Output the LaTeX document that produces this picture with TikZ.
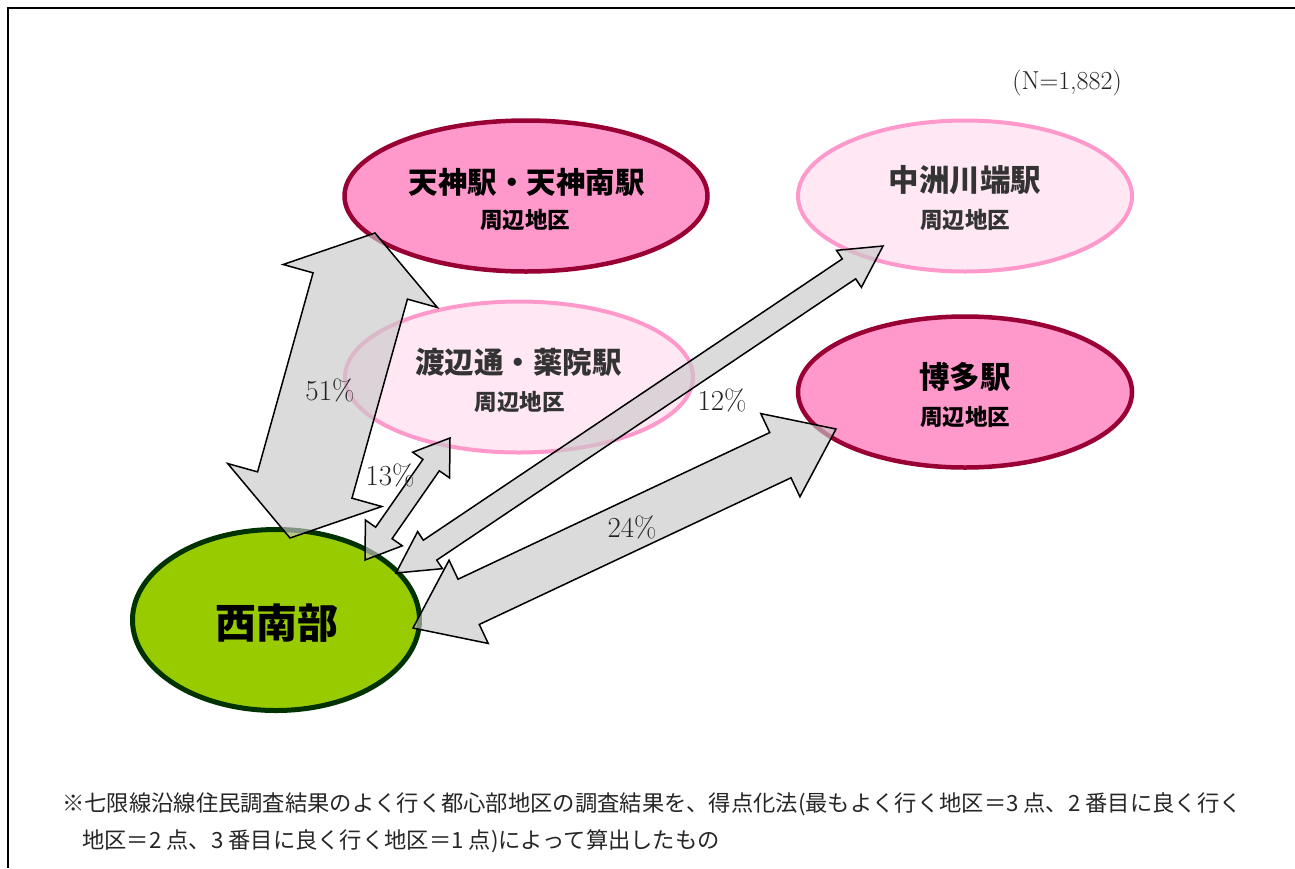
\documentclass[tikz,border=0pt]{standalone}
\usepackage{fontspec}
\newfontfamily\jp{Noto Sans CJK JP}
\usetikzlibrary{shapes.geometric,calc}
\definecolor{darkpink}{HTML}{FF99CC}
\definecolor{wine}{HTML}{990033}
\definecolor{lightpink}{HTML}{FFE8F4}
\definecolor{leaf}{HTML}{99CC00}
\definecolor{forest}{HTML}{003300}
\definecolor{arrowgray}{HTML}{C8C8C8}
\definecolor{inkgray}{HTML}{333333}
\definecolor{pctgray}{HTML}{222222}
\tikzset{
  majorarea/.style={ellipse, draw=wine, fill=darkpink, line width=4.5pt, inner sep=0pt},
  minorarea/.style={ellipse, draw=darkpink, fill=lightpink, line width=4pt, inner sep=0pt},
  homearea/.style={ellipse, draw=forest, fill=leaf, line width=5pt, inner sep=0pt},
  flowarrow/.style={draw=black, line width=1.5pt, fill=arrowgray, fill opacity=0.65, line join=miter},
  arealabel/.style={anchor=base, inner sep=0pt, font=\jp\bfseries\fontsize{#1}{#1}\selectfont},
  pctlabel/.style={anchor=base, inner sep=0pt, text=pctgray, font=\fontsize{29}{29}\selectfont},
  notelabel/.style={anchor=base west, inner sep=0pt, text=black!85, font=\jp\fontsize{22.3}{22.3}\selectfont}
}
% #1 start, #2 end, #3 shaft half width, #4 head half width, #5 head length
\newcommand\dblflow[5]{%
  \path[flowarrow]
    (#1)
    -- ($($(#1)!#5!(#2)$)!#4!90:(#2)$)
    -- ($($(#1)!#5!(#2)$)!#3!90:(#2)$)
    -- ($($(#2)!#5!(#1)$)!#3!-90:(#1)$)
    -- ($($(#2)!#5!(#1)$)!#4!-90:(#1)$)
    -- (#2)
    -- ($($(#2)!#5!(#1)$)!#4!90:(#1)$)
    -- ($($(#2)!#5!(#1)$)!#3!90:(#1)$)
    -- ($($(#1)!#5!(#2)$)!#3!-90:(#2)$)
    -- ($($(#1)!#5!(#2)$)!#4!-90:(#2)$)
    -- cycle;
}
\begin{document}
\begin{tikzpicture}[x=1pt,y=-1pt]
\useasboundingbox (0,0) rectangle (1295,868);
\fill[white] (0,0) rectangle (1295,868);
\draw[line width=2pt] (8,868) -- (8,8) -- (1295,8);

% areas
\node[majorarea, minimum width=363pt, minimum height=151pt] (tenjin) at (526,196) {};
\node[minorarea, minimum width=334pt, minimum height=151pt] (nakasu) at (965,196) {};
\node[majorarea, minimum width=334pt, minimum height=151pt] (hakata) at (965,392) {};
\node[minorarea, minimum width=348pt, minimum height=151pt] (watanabe) at (519,377) {};
\node[homearea, minimum width=287pt, minimum height=181pt] (seinan) at (276,620) {};

% area labels
\node[arealabel=29.5] (tenjinT) at (526.5,193) {天神駅・天神南駅};
\node[arealabel=22.5] (tenjinS) at (525,228.4) {周辺地区};
\node[arealabel=30.5, text=inkgray] (nakasuT) at (965,191.4) {中洲川端駅};
\node[arealabel=22.5, text=inkgray] (nakasuS) at (965,228.4) {周辺地区};
\node[arealabel=30.5] (hakataT) at (965,388.4) {博多駅};
\node[arealabel=22.5] (hakataS) at (965,425.4) {周辺地区};
\node[arealabel=29.5, text=inkgray] (watanabeT) at (518.5,373) {渡辺通・薬院駅};
\node[arealabel=22.5, text=inkgray] (watanabeS) at (519.5,410.4) {周辺地区};
\node[arealabel=41] (seinanT) at (276.5,638) {西南部};

% arrow ends
\coordinate (f51s) at (290,538);
\coordinate (f51e) at (375,233);
\coordinate (f13s) at (365,560);
\coordinate (f13e) at (450,438);
\coordinate (f12s) at (396,573);
\coordinate (f12e) at (883,246);
\coordinate (f24s) at (413,628);
\coordinate (f24e) at (836,429);

\dblflow{f51s}{f51e}{49pt}{80pt}{55pt}
\dblflow{f13s}{f13e}{10pt}{22.5pt}{33pt}
\dblflow{f12s}{f12e}{12pt}{22.3pt}{41pt}
\dblflow{f24s}{f24e}{25pt}{46pt}{61.5pt}

% percentages
\node[pctlabel] (p51) at (330,400) {51\%};
\node[pctlabel] (p13) at (390,485) {13\%};
\node[pctlabel] (p12) at (722,410) {12\%};
\node[pctlabel] (p24) at (632,537) {24\%};

\node[anchor=base, inner sep=0pt, text=pctgray, font=\fontsize{26}{26}\selectfont] (count) at (1067,89) {(N=1,882)};

% note
\node[notelabel] (note1) at (62,811) {※七限線沿線住民調査結果のよく行く都心部地区の調査結果を、得点化法(最もよく行く地区＝3 点、2 番目に良く行く};
\node[notelabel] (note2) at (82,848) {地区＝2 点、3 番目に良く行く地区＝1 点)によって算出したもの};
\end{tikzpicture}
\end{document}
